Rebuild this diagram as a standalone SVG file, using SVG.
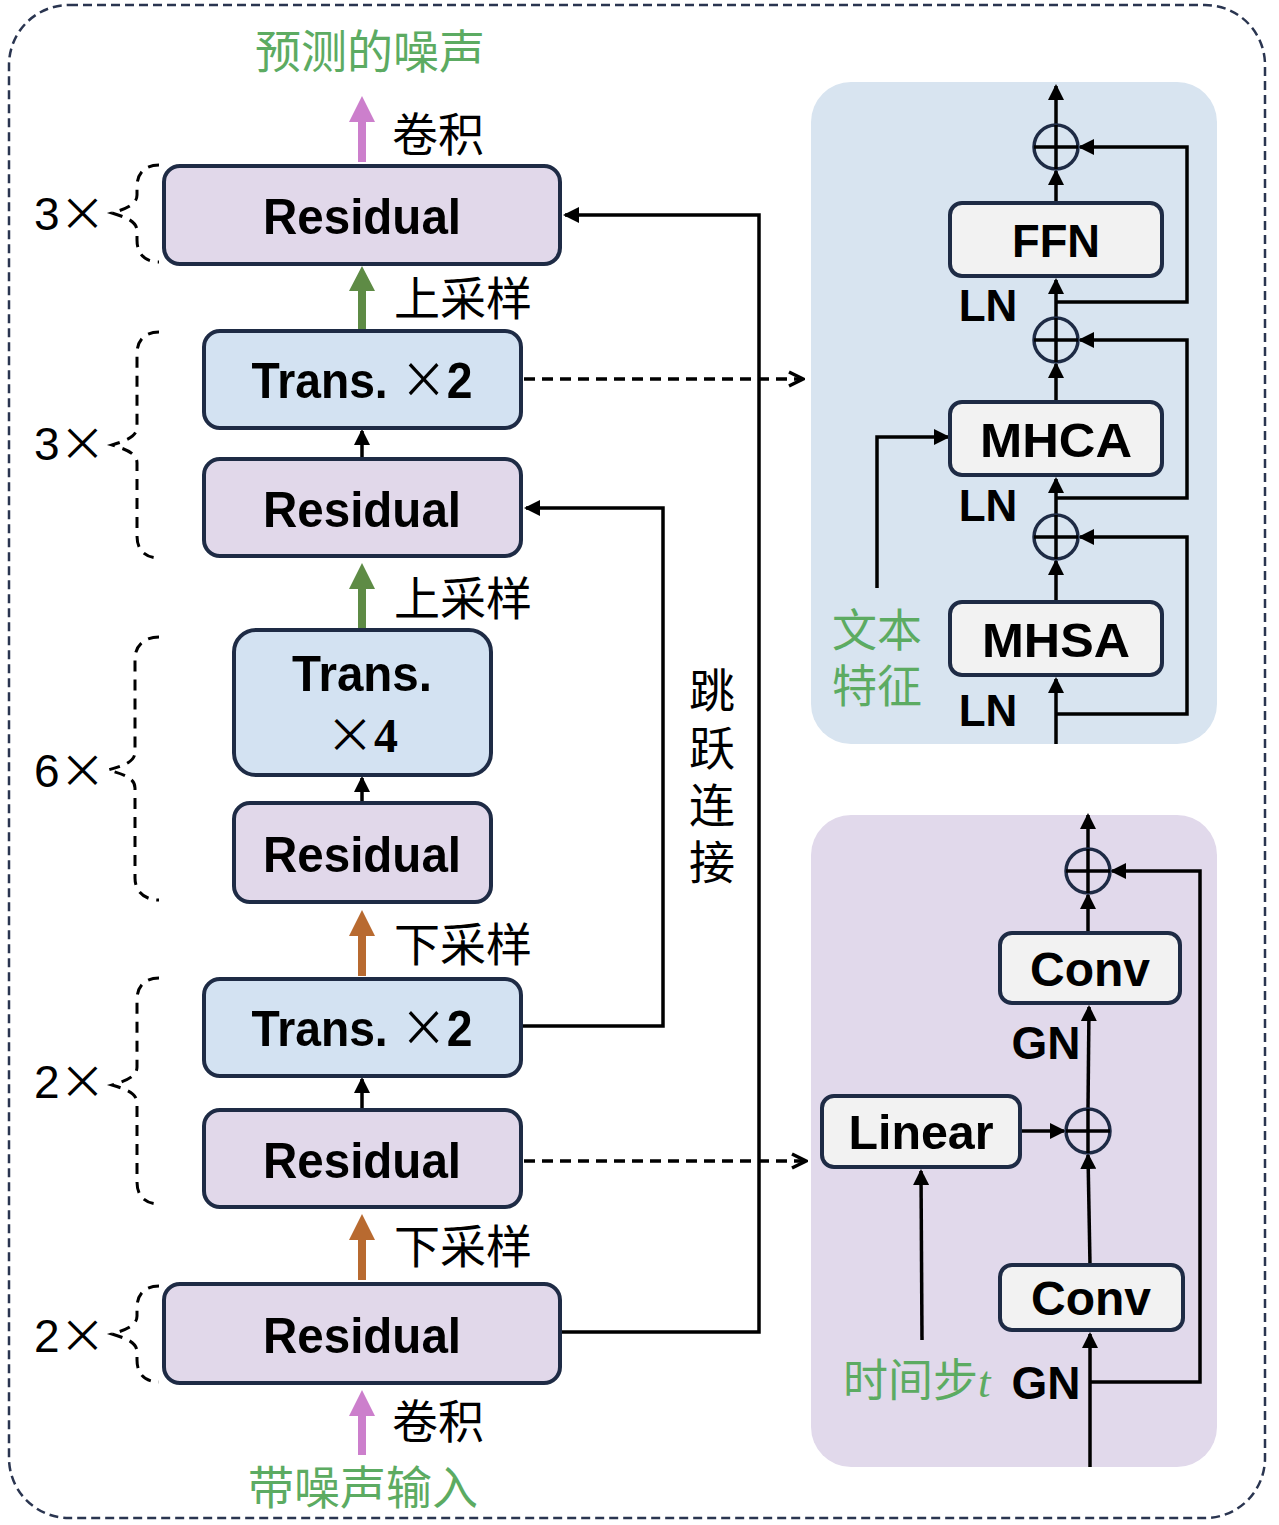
<svg xmlns="http://www.w3.org/2000/svg" width="1279" height="1525" viewBox="0 0 1279 1525">
<defs>
<style>
.box{stroke:#1e2b45;stroke-width:4}
.res{fill:#e1d8ea}
.tr{fill:#d3e2f2}
.wb{fill:#f2f2f2}
.lbl{font-family:"Liberation Sans",Arial,sans-serif;font-weight:bold;fill:#000;text-anchor:middle}
.cn{font-family:"Noto Sans CJK SC","Noto Sans",sans-serif;fill:#000}
.gr{fill:#5cab62}
.num{font-family:"Liberation Sans",Arial,sans-serif;fill:#000;font-size:46px}
.x{font-family:"Noto Sans CJK SC","Noto Sans",sans-serif;font-weight:normal}
.brace{fill:none;stroke:#000;stroke-width:3;stroke-dasharray:11 8}
.ln{fill:none;stroke:#000;stroke-width:3.5}
.dash{fill:none;stroke:#000;stroke-width:3.5;stroke-dasharray:11 7}
.circ{fill:none;stroke:#1e2b45;stroke-width:3.5}
</style>
<marker id="ah" viewBox="0 0 16 16" refX="14" refY="8" markerWidth="16" markerHeight="16" markerUnits="userSpaceOnUse" orient="auto"><path d="M0,0 L16,8 L0,16 z" fill="#000"/></marker>
<marker id="ch" viewBox="0 0 18 18" refX="16" refY="9" markerWidth="18" markerHeight="18" markerUnits="userSpaceOnUse" orient="auto"><path d="M2,2 L16,9 L2,16" fill="none" stroke="#000" stroke-width="3.5"/></marker>
</defs>

<rect x="9" y="5" width="1256" height="1513" rx="60" fill="none" stroke="#2a3550" stroke-width="2.5" stroke-dasharray="9 5"/>

<!-- panels -->
<rect id="panel-transformer" x="811" y="82" width="406" height="662" rx="40" fill="#d8e4f0"/>
<rect id="panel-residual" x="811" y="815" width="406" height="652" rx="40" fill="#e1d9eb"/>

<!-- connectors -->
<g id="connectors">
  <g id="thick-arrows">
    <path d="M358,162 V122 H349 L362,96 L375,122 H366 V162 Z" fill="#cc7fcc"/>
    <path d="M358,329 V291 H349 L362,266 L375,291 H366 V329 Z" fill="#5e8b45"/>
    <path d="M358,629 V589 H349 L362,563 L375,589 H366 V629 Z" fill="#5e8b45"/>
    <path d="M358,976 V936 H349 L362,910 L375,936 H366 V976 Z" fill="#b86a30"/>
    <path d="M358,1280 V1240 H349 L362,1214 L375,1240 H366 V1280 Z" fill="#b86a30"/>
    <path d="M358,1455 V1416 H349 L362,1390 L375,1416 H366 V1455 Z" fill="#cc7fcc"/>
  </g>
  <path class="ln" d="M362,459 V431" marker-end="url(#ah)"/>
  <path class="ln" d="M362,803 V778" marker-end="url(#ah)"/>
  <path class="ln" d="M362,1110 V1079" marker-end="url(#ah)"/>
  <path class="ln" d="M560,1332 H759 V215 H565" marker-end="url(#ah)"/>
  <path class="ln" d="M521,1026 H663 V508 H526" marker-end="url(#ah)"/>
  <path class="dash" d="M524,379 H803" marker-end="url(#ch)"/>
  <path class="dash" d="M524,1161 H806" marker-end="url(#ch)"/>
  <path class="brace" d="M159,165 C145,165 137,173 137,187 L137,195 C137,205 125,209 112,213 C125,217 137,221 137,231 L137,240 C137,254 145,262 159,262"/>
  <path class="brace" d="M159,332 C145,332 137,340 137,354 L137,427 C137,437 125,441 112,445 C125,449 137,453 137,463 L137,536 C137,550 145,558 159,558"/>
  <path class="brace" d="M159,637 C145,637 135,645 135,659 L135,752 C135,762 123,766 108,770 C123,774 135,778 135,788 L135,878 C135,892 145,900 159,900"/>
  <path class="brace" d="M159,978 C145,978 137,986 137,1000 L137,1067 C137,1077 125,1081 112,1085 C125,1089 137,1093 137,1103 L137,1182 C137,1196 145,1204 159,1204"/>
  <path class="brace" d="M159,1286 C145,1286 137,1294 137,1308 L137,1316 C137,1326 125,1330 112,1334 C125,1338 137,1342 137,1352 L137,1360 C137,1374 145,1382 159,1382"/>

  <path class="ln" d="M1056,744 V679" marker-end="url(#ah)"/>
  <path class="ln" d="M1056,602 V561" marker-end="url(#ah)"/>
  <path class="ln" d="M1056,515 V479" marker-end="url(#ah)"/>
  <path class="ln" d="M1056,402 V364" marker-end="url(#ah)"/>
  <path class="ln" d="M1056,318 V280" marker-end="url(#ah)"/>
  <path class="ln" d="M1056,203 V171" marker-end="url(#ah)"/>
  <path class="ln" d="M1056,125 V86" marker-end="url(#ah)"/>
  <path class="ln" d="M1056,714 H1187 V537 H1080" marker-end="url(#ah)"/>
  <path class="ln" d="M1056,498 H1187 V340 H1080" marker-end="url(#ah)"/>
  <path class="ln" d="M1056,302 H1187 V147 H1080" marker-end="url(#ah)"/>
  <path class="ln" d="M877,588 V437 H948" marker-end="url(#ah)"/>

  <path class="ln" d="M1090,1467 V1334" marker-end="url(#ah)"/>
  <path class="ln" d="M1090,1265 L1088,1155" marker-end="url(#ah)"/>
  <path class="ln" d="M1088,1109 L1089,1007" marker-end="url(#ah)"/>
  <path class="ln" d="M1088,933 V895" marker-end="url(#ah)"/>
  <path class="ln" d="M1088,849 V815" marker-end="url(#ah)"/>
  <path class="ln" d="M1090,1382 H1200 V871 H1112" marker-end="url(#ah)"/>
  <path class="ln" d="M1020,1131 H1064" marker-end="url(#ah)"/>
  <path class="ln" d="M922,1340 L921,1171" marker-end="url(#ah)"/>
</g>

<g id="add1"><ellipse class="circ" cx="1056" cy="147" rx="22" ry="22"/><path class="ln" d="M1034,147 H1078 M1056,125 V169"/></g>
<g id="add2"><ellipse class="circ" cx="1056" cy="340" rx="22" ry="22"/><path class="ln" d="M1034,340 H1078 M1056,318 V362"/></g>
<g id="add3"><ellipse class="circ" cx="1056" cy="537" rx="22" ry="22"/><path class="ln" d="M1034,537 H1078 M1056,515 V559"/></g>
<g id="add4"><ellipse class="circ" cx="1088" cy="871" rx="22" ry="22"/><path class="ln" d="M1066,871 H1110 M1088,849 V893"/></g>
<g id="add5"><ellipse class="circ" cx="1088" cy="1131" rx="22" ry="22"/><path class="ln" d="M1066,1131 H1110 M1088,1109 V1153"/></g>

<g id="res-top"><rect class="box res" x="164" y="166" width="396" height="98" rx="16"/><text class="lbl" x="362" y="234" font-size="50" textLength="198" lengthAdjust="spacingAndGlyphs">Residual</text></g>
<g id="trans-up"><rect class="box tr" x="204" y="331" width="317" height="97" rx="16"/><text class="lbl" x="362" y="398" font-size="50" textLength="221" lengthAdjust="spacingAndGlyphs">Trans. <tspan class="x">×</tspan>2</text></g>
<g id="res-up"><rect class="box res" x="204" y="459" width="317" height="97" rx="16"/><text class="lbl" x="362" y="527" font-size="50" textLength="198" lengthAdjust="spacingAndGlyphs">Residual</text></g>
<g id="trans-mid"><rect class="box tr" x="234" y="630" width="257" height="145" rx="22"/><text class="lbl" x="362" y="691" font-size="50" textLength="140" lengthAdjust="spacingAndGlyphs">Trans.</text><text class="lbl" x="362" y="752" font-size="48"><tspan class="x">×</tspan><tspan style="font-family:'Liberation Serif',serif;font-weight:bold">4</tspan></text></g>
<g id="res-mid"><rect class="box res" x="234" y="803" width="257" height="99" rx="16"/><text class="lbl" x="362" y="872" font-size="50" textLength="198" lengthAdjust="spacingAndGlyphs">Residual</text></g>
<g id="trans-down"><rect class="box tr" x="204" y="979" width="317" height="97" rx="16"/><text class="lbl" x="362" y="1046" font-size="50" textLength="221" lengthAdjust="spacingAndGlyphs">Trans. <tspan class="x">×</tspan>2</text></g>
<g id="res-down"><rect class="box res" x="204" y="1110" width="317" height="97" rx="16"/><text class="lbl" x="362" y="1178" font-size="50" textLength="198" lengthAdjust="spacingAndGlyphs">Residual</text></g>
<g id="res-bottom"><rect class="box res" x="164" y="1284" width="396" height="99" rx="16"/><text class="lbl" x="362" y="1353" font-size="50" textLength="198" lengthAdjust="spacingAndGlyphs">Residual</text></g>

<g id="ffn"><rect class="box wb" x="950" y="203" width="212" height="73" rx="12"/><text class="lbl" x="1056" y="257" font-size="46" textLength="88" lengthAdjust="spacingAndGlyphs">FFN</text></g>
<g id="mhca"><rect class="box wb" x="950" y="402" width="212" height="73" rx="12"/><text class="lbl" x="1056" y="457" font-size="48" textLength="152" lengthAdjust="spacingAndGlyphs">MHCA</text></g>
<g id="mhsa"><rect class="box wb" x="950" y="602" width="212" height="73" rx="12"/><text class="lbl" x="1056" y="657" font-size="48" textLength="148" lengthAdjust="spacingAndGlyphs">MHSA</text></g>
<g id="conv-top"><rect class="box wb" x="1000" y="933" width="180" height="70" rx="12"/><text class="lbl" x="1090" y="986" font-size="48" textLength="120" lengthAdjust="spacingAndGlyphs">Conv</text></g>
<g id="conv-bottom"><rect class="box wb" x="1000" y="1265" width="183" height="65" rx="12"/><text class="lbl" x="1091" y="1315" font-size="48" textLength="120" lengthAdjust="spacingAndGlyphs">Conv</text></g>
<g id="linear"><rect class="box wb" x="822" y="1096" width="198" height="71" rx="12"/><text class="lbl" x="921" y="1149" font-size="48" textLength="145" lengthAdjust="spacingAndGlyphs">Linear</text></g>

<g id="labels">
  <text class="cn gr" x="370" y="68" font-size="46" text-anchor="middle">预测的噪声</text>
  <text class="cn" x="392" y="151" font-size="46">卷积</text>
  <text class="cn" x="394" y="315" font-size="46">上采样</text>
  <text class="cn" x="394" y="615" font-size="46">上采样</text>
  <text class="cn" x="394" y="961" font-size="46">下采样</text>
  <text class="cn" x="394" y="1263" font-size="46">下采样</text>
  <text class="cn" x="392" y="1438" font-size="46">卷积</text>
  <text class="cn gr" x="363" y="1504" font-size="46" text-anchor="middle">带噪声输入</text>
  <text class="cn" font-size="46" text-anchor="middle"><tspan x="712" y="707">跳</tspan><tspan x="712" y="765">跃</tspan><tspan x="712" y="822">连</tspan><tspan x="712" y="879">接</tspan></text>
  <text class="num" x="34" y="230">3<tspan class="x">×</tspan></text>
  <text class="num" x="34" y="460">3<tspan class="x">×</tspan></text>
  <text class="num" x="34" y="787">6<tspan class="x">×</tspan></text>
  <text class="num" x="34" y="1098">2<tspan class="x">×</tspan></text>
  <text class="num" x="34" y="1352">2<tspan class="x">×</tspan></text>
  <text class="lbl" x="988" y="321" font-size="44">LN</text>
  <text class="lbl" x="988" y="521" font-size="44">LN</text>
  <text class="lbl" x="988" y="726" font-size="44">LN</text>
  <text class="lbl" x="1046" y="1059" font-size="46">GN</text>
  <text class="lbl" x="1046" y="1399" font-size="46">GN</text>
  <text class="cn gr" font-size="45" text-anchor="middle"><tspan x="877" y="647">文本</tspan><tspan x="877" y="703">特征</tspan></text>
  <text class="cn gr" x="843" y="1397" font-size="45">时间步<tspan style="font-family:'Liberation Serif',serif;font-style:italic">t</tspan></text>
</g>
</svg>
